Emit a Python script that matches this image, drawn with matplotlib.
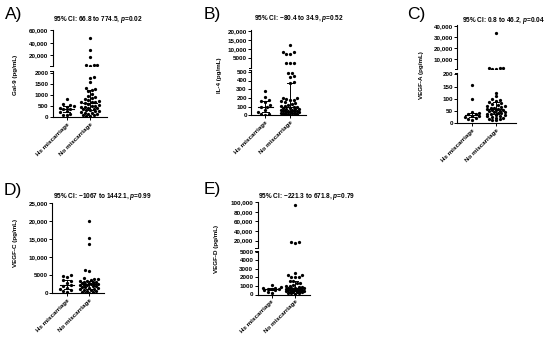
import matplotlib
matplotlib.use("Agg")
import matplotlib.pyplot as plt
import numpy as np

plt.rcParams['font.family'] = ['Liberation Sans', 'DejaVu Sans']
plt.rcParams['font.weight'] = 'bold'
plt.rcParams['mathtext.fontset'] = 'custom'
plt.rcParams['mathtext.rm'] = 'Liberation Sans:bold'
plt.rcParams['mathtext.it'] = 'Liberation Sans:italic:bold'
plt.rcParams['mathtext.bf'] = 'Liberation Sans:bold'

W, H = 550, 341
categories = ["Hx miscarriage", "No miscarriage"]

# ---- data (pg/mL) ----
gal9_hx = [850, 610, 565, 520, 470, 425, 400, 375, 300, 235, 150, 115, 90]
gal9_no = [48000, 28500, 16800, 5300, 4900, 4400, 3700, 1850, 1780, 1590, 1330, 1300, 1240,
           1180, 1040, 960, 910, 860, 810, 770, 740, 715, 700, 680, 640, 600, 570, 515,
           495, 470, 455, 430, 415, 390, 370, 345, 320, 300, 270, 245, 215, 190, 170,
           140, 115, 95, 70, 45]

il4_hx = [285, 215, 180, 170, 158, 120, 100, 92, 60, 38, 22, 14, 8]
il4_no = [12500, 8600, 8450, 7500, 7350, 2650, 2500, 2350, 490, 485, 452, 445, 380, 372,
          205, 198, 190, 182, 175, 160, 152, 140, 128, 120, 113, 106, 98, 94, 88, 83, 79,
          75, 71, 68, 64, 61, 57, 54, 50, 47, 44, 40, 37, 33, 30, 27, 24, 20, 17, 14, 11,
          8, 5]

vegfa_hx = [158, 101, 45, 43, 40, 36, 30, 28, 25, 20, 18, 15]
vegfa_no = [34000, 2100, 1950, 1800, 1650, 1500, 125, 110, 101, 95, 91, 87, 82, 78, 75,
            72, 70, 67, 64, 62, 60, 58, 56, 54, 53, 51, 49, 47, 45, 43, 41, 39, 37, 35,
            33, 31, 28, 26, 23, 21, 19, 17, 15, 12]

vegfc_hx = [5200, 4900, 4450, 3700, 3300, 2950, 2200, 1900, 1450, 1150, 780, 620, 310]
vegfc_no = [20100, 15300, 13800, 6500, 6250, 4300, 4050, 3850, 3650, 3520, 3380, 3250,
            3120, 3030, 2940, 2810, 2720, 2650, 2560, 2470, 2380, 2290, 2170, 2060, 1940,
            1820, 1690, 1530, 1380, 1210, 1060, 930, 820, 690, 540, 420, 290, 180, 90]

vegfd_hx = [1100, 900, 820, 760, 700, 660, 610, 560, 500, 320, 200]
vegfd_no = [93000, 16500, 16000, 15500, 2500, 2320, 2280, 2080, 2050, 2000, 1600, 1580,
            1330, 1310, 1110, 980, 940, 890, 850, 820, 790, 760, 730, 700, 680, 650, 620,
            600, 580, 550, 530, 500, 470, 440, 410, 380, 350, 320, 280, 240, 200, 160,
            120, 80]

FS = 4.5
TFS = 4.7

fig = plt.figure(figsize=(W / 100, H / 100), dpi=100)


def to_rect(x0, x1, ytop, ybot):
    return [x0 / W, 1 - ybot / H, (x1 - x0) / W, (ybot - ytop) / H]


def fmt(v):
    v = int(v)
    return f"{v:,}" if v >= 10000 else str(v)


def swarm(ypix, d, maxw):
    """Beeswarm offsets (pixels) limited to +-maxw; overlap allowed when full."""
    offs = np.zeros(len(ypix))
    placed = []
    step = d * 0.5
    nstep = int(maxw / step)
    for n, i in enumerate(np.argsort(ypix)):
        y = ypix[i]
        sgn = 1 if n % 2 == 0 else -1
        cands = [0.0]
        for k in range(1, nstep + 1):
            cands += [sgn * k * step, -sgn * k * step]
        best, bestd = 0.0, -1
        chosen = None
        for c in cands:
            md = min([np.hypot(c - ox, y - oy) for ox, oy in placed] or [99])
            if md >= d:
                chosen = c
                break
            if md > bestd:
                best, bestd = c, md
        if chosen is None:
            chosen = best
        offs[i] = chosen
        placed.append((chosen, y))
    return offs


def panel(letter, letter_xy, title, title_xy, ylabel, ylabel_xy,
          groups, x0, x1, cx, segs):
    scale = cx[1] - cx[0]
    xlim = ((x0 - cx[0]) / scale, (x1 - cx[0]) / scale)
    axes = []
    for j, s in enumerate(segs):
        ax = fig.add_axes(to_rect(x0, x1, s['ytop'], s['ybot']))
        ax.set_xlim(*xlim)
        ax.set_ylim(*s['ylim'])
        ax.patch.set_alpha(0)
        for sp in ['top', 'right']:
            ax.spines[sp].set_visible(False)
        for sp in ['left', 'bottom']:
            ax.spines[sp].set_linewidth(0.8)
        ax.set_yticks(s['ticks'])
        ax.set_yticklabels([fmt(t) for t in s['ticks']], fontsize=FS, fontweight='bold')
        ax.tick_params(axis='both', length=2, width=0.7, pad=1)
        if j == 0:
            ax.set_xticks([0, 1])
            ax.set_xticklabels(categories, rotation=45, ha='right',
                               rotation_mode='anchor', fontsize=FS, fontweight='bold')
        else:
            ax.spines['bottom'].set_visible(False)
            ax.set_xticks([])
        frac = 2.2 / (x1 - x0)
        if len(segs) > 1:
            yy = 1 if j == 0 else 0
            ax.plot([-frac, 0], [yy, yy], transform=ax.transAxes, color='black',
                    lw=0.7, clip_on=False)
        axes.append(ax)

    def seg_of(v):
        for j, s in enumerate(segs):
            if v <= s['ylim'][1] or j == len(segs) - 1:
                return j
        return len(segs) - 1

    for g, vals in enumerate(groups):
        vals = np.asarray(vals, dtype=float)
        idx = [seg_of(v) for v in vals]
        ypix = np.array([axes[k].transData.transform((0, v))[1] for k, v in zip(idx, vals)])
        offs = swarm(ypix, 3.6, 9.0) / scale
        for k in range(len(segs)):
            m = np.array(idx) == k
            if m.any():
                axes[k].scatter(g + offs[m], vals[m], s=5.5, color='black',
                                linewidths=0, zorder=3)
        med = np.median(vals)
        q1, q3 = np.percentile(vals, [25, 75])
        ax = axes[0]
        ax.plot([g - 0.3, g + 0.3], [med, med], color='black', lw=0.8, zorder=4)
        ax.plot([g, g], [q1, q3], color='black', lw=0.7, zorder=4)
        ax.plot([g - 0.14, g + 0.14], [q1, q1], color='black', lw=0.7, zorder=4)
        ax.plot([g - 0.14, g + 0.14], [q3, q3], color='black', lw=0.7, zorder=4)

    fig.text(letter_xy[0] / W, 1 - letter_xy[1] / H, letter, fontsize=12.5,
             fontweight='normal', ha='center', va='center')
    fig.text(title_xy[0] / W, 1 - title_xy[1] / H, title, fontsize=TFS,
             fontweight='bold', ha='center', va='center')
    fig.text(ylabel_xy[0] / W, 1 - ylabel_xy[1] / H, ylabel, fontsize=FS,
             fontweight='bold', ha='center', va='center', rotation=90)


panel("A)", (14, 15), "95% CI: 66.8 to 774.5, $p$=0.02", (98, 19.5),
      "Gal-9 (pg/mL)", (16, 75), [gal9_hx, gal9_no], 52.5, 106.5, (66.7, 90),
      [dict(ybot=117.3, ytop=71.1, ylim=(0, 2100), ticks=[0, 500, 1000, 1500, 2000]),
       dict(ybot=66, ytop=30, ylim=(2900, 60500), ticks=[20000, 40000, 60000])])

panel("B)", (212, 15), "95% CI: \u221280.4 to 34.9, $p$=0.52", (299, 19),
      "IL-4 (pg/mL)", (220, 75), [il4_hx, il4_no], 251, 306, (265, 290),
      [dict(ybot=115.5, ytop=70, ylim=(0, 520), ticks=[0, 100, 200, 300, 400, 500]),
       dict(ybot=67.7, ytop=30.4, ylim=(0, 20200), ticks=[5000, 10000, 15000, 20000])])

panel("C)", (416, 15), "95% CI: 0.8 to 46.2, $p$=0.04", (503, 20.5),
      "VEGF-A (pg/mL)", (421, 75), [vegfa_hx, vegfa_no], 457, 516, (472, 496),
      [dict(ybot=123.3, ytop=72.7, ylim=(0, 207), ticks=[0, 50, 100, 150, 200]),
       dict(ybot=69.3, ytop=25.5, ylim=(1000, 40500), ticks=[10000, 20000, 30000, 40000])])

panel("D)", (13, 191), "95% CI: \u22121067 to 1442.1, $p$=0.99", (102.5, 196),
      "VEGF-C (pg/mL)", (16, 243), [vegfc_hx, vegfc_no], 52, 104, (67, 89),
      [dict(ybot=293.3, ytop=203.3, ylim=(0, 25000),
            ticks=[0, 5000, 10000, 15000, 20000, 25000])])

panel("E)", (212, 190), "95% CI: \u2212221.3 to 671.8, $p$=0.79", (306.5, 196.5),
      "VEGF-D (pg/mL)", (216.5, 249), [vegfd_hx, vegfd_no], 257.5, 310, (271.5, 295),
      [dict(ybot=294.5, ytop=251, ylim=(0, 5100), ticks=[0, 1000, 2000, 3000, 4000, 5000]),
       dict(ybot=248, ytop=201.8, ylim=(4400, 100500),
            ticks=[20000, 40000, 60000, 80000, 100000])])

fig.savefig("out.png", dpi=100)
